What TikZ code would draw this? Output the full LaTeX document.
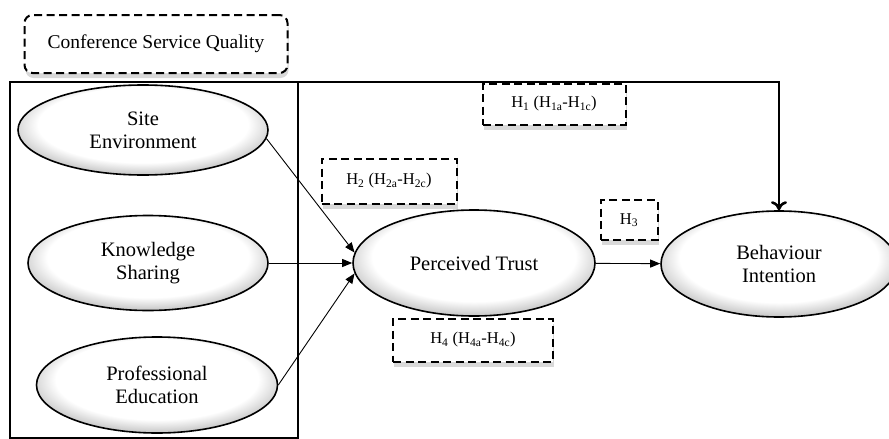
\documentclass[tikz,border=0pt]{standalone}
\usepackage{fontspec}
\setmainfont{Liberation Serif}
\usepackage{tikz}
\usetikzlibrary{shapes.geometric,arrows.meta,shadows}
\pgfdeclareradialshading{ovalshade}{\pgfpoint{0bp}{5bp}}{color(0bp)=(white); color(21bp)=(white); color(32bp)=(black!40); color(50bp)=(black!40)}

\begin{document}
\begin{tikzpicture}[x=1pt,y=-1pt,
  construct/.style={ellipse,draw,line width=1.6pt,shading=ovalshade,align=center,font=\fontsize{20.5}{23}\selectfont,inner sep=0pt},
  hyp/.style={draw,line width=2pt,dash pattern=on 8pt off 4.5pt,fill=white,drop shadow={opacity=.3,shadow xshift=1pt,shadow yshift=-5pt},font=\fontsize{16.5}{18}\selectfont,inner sep=0pt},
  link/.style={line width=0.9pt,-{Triangle[length=10pt,width=8pt]}}]
\useasboundingbox (0,0) rectangle (889,439);
\node [hyp,rounded corners=8pt,minimum width=263pt,minimum height=58pt,font=\fontsize{19.5}{22}\selectfont] (csq) at (156,44) {Conference Service Quality};
\node [draw,line width=2.4pt,outer sep=0pt,minimum width=288pt,minimum height=356pt] (frame) at (154,260) {};
\node [construct,minimum width=250pt,minimum height=90pt] (se) at (143,130) {Site\\Environment};
\node [construct,minimum width=240pt,minimum height=95pt] (ks) at (148,263) {Knowledge\\Sharing};
\node [construct,minimum width=241pt,minimum height=96pt] (pe) at (157,385) {Professional\\Education};
\node [construct,minimum width=242pt,minimum height=106pt] (pt) at (474,263) {Perceived Trust};
\node [construct,minimum width=236pt,minimum height=106pt] (bi) at (779,264) {Behaviour\\Intention};
\node [hyp,minimum width=143pt,minimum height=41pt] (h1) at (554,104) {H\textsubscript{1} (H\textsubscript{1a}-H\textsubscript{1c})};
\node [hyp,minimum width=135pt,minimum height=45pt] (h2) at (389,181) {H\textsubscript{2} (H\textsubscript{2a}-H\textsubscript{2c})};
\node [hyp,minimum width=57pt,minimum height=40pt] (h3) at (629,220) {H\textsubscript{3}};
\node [hyp,minimum width=160pt,minimum height=43pt] (h4) at (473,340) {H\textsubscript{4} (H\textsubscript{4a}-H\textsubscript{4c})};
\draw [link] (se.-4) -- (pt.175);
\draw [link] (ks) -- (pt);
\draw [link] (pe.east) -- (pt.185);
\draw [link] (pt) -- (bi);
\draw [line width=2.6pt,-{To[length=9pt,width=16pt]}] (frame.north east) -| (bi.north);
\end{tikzpicture}
\end{document}
